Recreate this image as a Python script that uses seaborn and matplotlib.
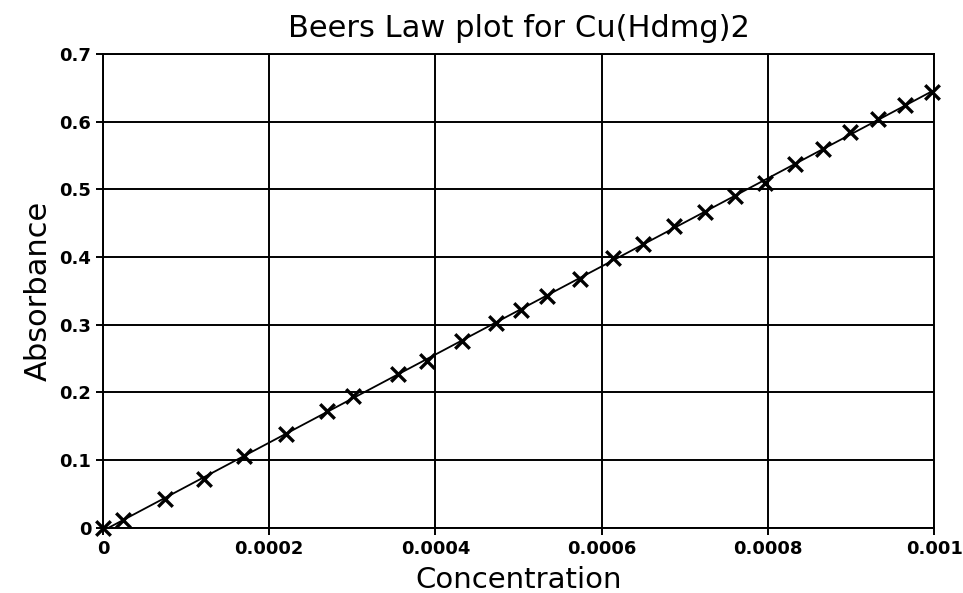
import matplotlib
matplotlib.use("Agg")
import matplotlib.pyplot as plt
import seaborn as sns
import numpy as np
import pandas as pd

concentration = [0.0, 0.0000244, 0.0000746, 0.0001215, 0.000170, 0.000220,
                 0.000270, 0.000301, 0.000355, 0.000390, 0.000432, 0.000473,
                 0.000503, 0.000534, 0.000574, 0.000614, 0.000650, 0.000687,
                 0.000724, 0.000761, 0.000796, 0.000833, 0.000866, 0.000899,
                 0.000933, 0.000965, 0.000997]
absorbance = [0.0, 0.012, 0.043, 0.072, 0.106, 0.138,
              0.173, 0.194, 0.227, 0.246, 0.276, 0.303,
              0.321, 0.342, 0.368, 0.399, 0.419, 0.446,
              0.466, 0.490, 0.510, 0.537, 0.560, 0.584,
              0.604, 0.624, 0.644]

x_ticks = [0, 0.0002, 0.0004, 0.0006, 0.0008, 0.001]
x_tick_labels = ["0", "0.0002", "0.0004", "0.0006", "0.0008", "0.001"]
y_ticks = [0, 0.1, 0.2, 0.3, 0.4, 0.5, 0.6, 0.7]
y_tick_labels = ["0", "0.1", "0.2", "0.3", "0.4", "0.5", "0.6", "0.7"]

df = pd.DataFrame({"Concentration": concentration, "Absorbance": absorbance})

# least squares line through the measurements
slope, intercept = np.polyfit(df["Concentration"], df["Absorbance"], 1)
fit = pd.DataFrame({"Concentration": [0.0, 0.001]})
fit["Absorbance"] = intercept + slope * fit["Concentration"]

sns.set_style("white")
plt.rcParams["font.family"] = ["DejaVu Sans"]
plt.rcParams["text.color"] = "black"
plt.rcParams["axes.labelcolor"] = "black"
plt.rcParams["xtick.color"] = "black"
plt.rcParams["ytick.color"] = "black"

fig = plt.figure(figsize=(9.63, 5.93), dpi=100)
ax = fig.add_axes([0.107, 0.110, 0.863, 0.799])

sns.lineplot(data=fit, x="Concentration", y="Absorbance", color="black",
             linewidth=1.3, ax=ax, zorder=3)
sns.scatterplot(data=df, x="Concentration", y="Absorbance", marker="x",
                color="black", s=110, linewidth=2.4, ax=ax, zorder=4,
                clip_on=False)

ax.set_xlim(0, 0.001)
ax.set_ylim(0, 0.7)
ax.set_xticks(x_ticks)
ax.set_xticklabels(x_tick_labels)
ax.set_yticks(y_ticks)
ax.set_yticklabels(y_tick_labels)
ax.grid(True, color="black", linewidth=1.4)
ax.set_axisbelow(True)
for spine in ax.spines.values():
    spine.set_color("black")
    spine.set_linewidth(1.4)
ax.tick_params(axis="both", direction="out", length=5, width=1.4,
               colors="black", labelsize=13, left=True, bottom=True)
for lbl in ax.get_xticklabels() + ax.get_yticklabels():
    lbl.set_fontweight("bold")

ax.set_title("Beers Law plot for Cu(Hdmg)2", fontsize=22, pad=12,
             color="black", fontweight="medium")
ax.set_xlabel("Concentration", fontsize=21, labelpad=6, color="black")
ax.set_ylabel("Absorbance", fontsize=22, labelpad=5, color="black")

fig.savefig("out.png", dpi=100, facecolor="white")
